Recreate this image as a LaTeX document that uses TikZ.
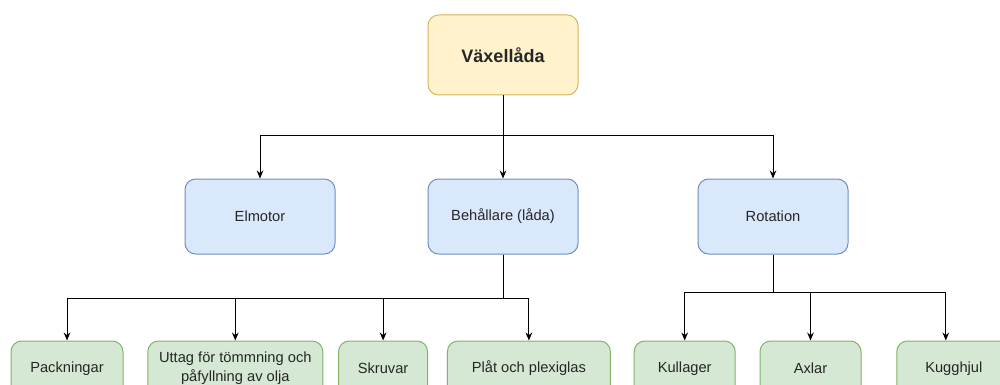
\documentclass[tikz,border=0pt]{standalone}
\usepackage{fontspec}
\setmainfont{Liberation Sans}
\usepackage{xcolor}
\usepackage{tikz}
\usetikzlibrary{arrows.meta, positioning}

\definecolor{rootfill}{HTML}{FFF2CC}
\definecolor{rootline}{HTML}{D6B656}
\definecolor{catfill}{HTML}{DAE8FC}
\definecolor{catline}{HTML}{6C8EBF}
\definecolor{partfill}{HTML}{D5E8D4}
\definecolor{partline}{HTML}{82B366}

\begin{document}
\begin{tikzpicture}[
      x=0.75pt, y=-0.75pt,
      box/.style  = {draw, rounded corners=8pt, line width=0.75pt,
                     inner sep=2pt, align=center, text=black!85,
                     font=\fontsize{11}{14}\selectfont},
      root/.style = {box, fill=rootfill, draw=rootline,
                     minimum width=112.5pt, minimum height=60pt,
                     font=\fontsize{13.5}{16}\selectfont\bfseries},
      cat/.style  = {box, fill=catfill, draw=catline,
                     minimum width=112.5pt, minimum height=56.25pt},
      part/.style = {box, fill=partfill, draw=partline,
                     minimum height=41.25pt},
      arr/.style  = {-{Stealth[length=6pt, width=5pt]}, line width=0.75pt},
    ]
    \clip (0,0) rectangle (1000,385);

    \node[root]                           (gear)   at (503,55) {Växellåda};
    \node[cat, below=62.25pt of gear]     (beh)    {Behållare (låda)};
    \node[cat, left=69pt of beh]          (motor)  {Elmotor};
    \node[cat, right=89.25pt of beh]      (rot)    {Rotation};

    \node[part, minimum width=84pt]       (pack)   at (67,368.5) {Packningar};
    \node[part, minimum width=131.25pt, right=17.85pt of pack] (uttag)
         {Uttag för tömmning och\\påfyllning av olja};
    \node[part, minimum width=66.75pt,  right=11.1pt of uttag]  (skruv) {Skruvar};
    \node[part, minimum width=122.25pt, right=14.1pt of skruv]  (plat)  {Plåt och plexiglas};
    \node[part, minimum width=75.75pt,  right=17.1pt of plat]   (kull)  {Kullager};
    \node[part, minimum width=75.75pt,  right=17.85pt of kull]  (axlar) {Axlar};
    \node[part, minimum width=85.5pt,   right=26.1pt of axlar]  (kugg)  {Kugghjul};

    \draw[arr] (gear.south) -- ++(0,40) -| (motor.north);
    \draw[arr] (gear.south) -- (beh.north);
    \draw[arr] (gear.south) -- ++(0,40) -| (rot.north);

    \draw[arr] (beh.south) -- ++(0,44) -| (pack.north);
    \draw[arr] (beh.south) -- ++(0,44) -| (uttag.north);
    \draw[arr] (beh.south) -- ++(0,44) -| (skruv.north);
    \draw[arr] (beh.south) -- ++(0,44) -| (plat.north);

    \draw[arr] (rot.south) -- ++(0,38) -| (kull.north);
    \draw[arr] (rot.south) -- ++(0,38) -| (axlar.north);
    \draw[arr] (rot.south) -- ++(0,38) -| ([xshift=-6pt]kugg.north);
\end{tikzpicture}
\end{document}
